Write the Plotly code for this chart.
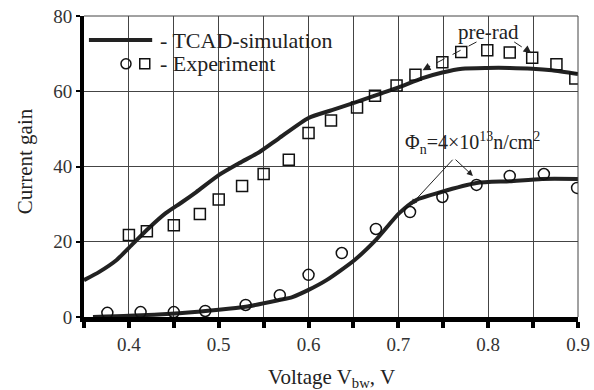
import plotly.graph_objects as go

# --- data ---
pre_sim_x = [0.35, 0.367, 0.386, 0.403, 0.422, 0.441, 0.459, 0.475, 0.50, 0.523, 0.545, 0.567,
             0.60, 0.626, 0.653, 0.682, 0.701, 0.727, 0.749, 0.771, 0.798, 0.824, 0.849, 0.871, 0.90]
pre_sim_y = [9.8, 12.0, 15.1, 19.1, 23.6, 27.6, 30.5, 33.2, 37.7, 40.9, 43.8, 47.5,
             52.9, 55.0, 57.1, 59.5, 61.1, 63.5, 65.0, 66.0, 66.2, 66.2, 66.0, 65.6, 64.6]

irr_sim_x = [0.36, 0.40, 0.456, 0.50, 0.53, 0.567, 0.582, 0.60, 0.62, 0.651, 0.675, 0.701,
             0.72, 0.746, 0.787, 0.824, 0.86, 0.90]
irr_sim_y = [0.0, 0.3, 1.0, 1.9, 2.7, 4.5, 5.3, 7.2, 9.8, 15.1, 20.5, 27.6,
             31.1, 33.1, 35.6, 36.1, 36.7, 36.7]

sq_x = [0.40, 0.42, 0.45, 0.479, 0.50, 0.526, 0.550, 0.578, 0.600, 0.625, 0.654, 0.674,
        0.698, 0.719, 0.749, 0.770, 0.799, 0.824, 0.849, 0.876, 0.897]
sq_y = [21.8, 22.8, 24.4, 27.4, 31.2, 34.8, 38.0, 41.8, 48.9, 52.2, 55.7, 58.8,
        61.5, 64.4, 67.7, 70.4, 70.9, 70.3, 68.9, 67.2, 63.4]

ci_x = [0.376, 0.413, 0.450, 0.485, 0.530, 0.568, 0.600, 0.637, 0.675, 0.713, 0.749, 0.787,
        0.824, 0.862, 0.899]
ci_y = [1.1, 1.3, 1.3, 1.6, 3.2, 5.8, 11.2, 17.0, 23.4, 27.9, 31.9, 35.1, 37.5, 38.0, 34.3]

x_tick_vals = [0.4, 0.5, 0.6, 0.7, 0.8, 0.9]
x_tick_text = ["0.4", "0.5", "0.6", "0.7", "0.8", "0.9"]
y_tick_vals = [0, 20, 40, 60, 80]
y_tick_text = ["0", "20", "40", "60", "80"]

FONT = "Liberation Serif"
TXT = "#222222"
LINE = "#222222"
GRID = "#444444"

fig = go.Figure()
fig.add_trace(go.Scatter(x=pre_sim_x, y=pre_sim_y, mode="lines",
                         line=dict(color=LINE, width=4, shape="spline", smoothing=0.6)))
fig.add_trace(go.Scatter(x=irr_sim_x, y=irr_sim_y, mode="lines",
                         line=dict(color=LINE, width=4, shape="spline", smoothing=0.6)))
fig.add_trace(go.Scatter(x=sq_x, y=sq_y, mode="markers",
                         marker=dict(symbol="square-open", size=11, color="#111",
                                     line=dict(width=1.5))))
fig.add_trace(go.Scatter(x=ci_x, y=ci_y, mode="markers",
                         marker=dict(symbol="circle-open", size=11, color="#111",
                                     line=dict(width=1.5))))

shapes = [
    # top and right thin border
    dict(type="line", xref="paper", yref="paper", x0=0, x1=1, y0=1, y1=1,
         line=dict(color=GRID, width=1)),
    dict(type="line", xref="paper", yref="paper", x0=1, x1=1, y0=0, y1=1,
         line=dict(color=GRID, width=1)),
    # legend line sample
    dict(type="line", xref="paper", yref="paper", x0=0.010, x1=0.138, y0=0.920, y1=0.920,
         line=dict(color=LINE, width=4)),
    # legend markers
    dict(type="circle", xref="paper", yref="paper", xsizemode="pixel", ysizemode="pixel",
         xanchor=0.085, yanchor=0.841, x0=-5, x1=5, y0=-5, y1=5,
         line=dict(color="#111", width=1.5)),
    dict(type="rect", xref="paper", yref="paper", xsizemode="pixel", ysizemode="pixel",
         xanchor=0.123, yanchor=0.841, x0=-5, x1=5, y0=-5, y1=5,
         line=dict(color="#111", width=1.5)),
    # dashed pre-rad arrows
    dict(type="line", x0=0.787, y0=73.1, x1=0.735, y1=66.6,
         line=dict(color="#222", width=1, dash="dash")),
    dict(type="line", x0=0.829, y0=73.1, x1=0.843, y1=70.9,
         line=dict(color="#222", width=1, dash="dash")),
]

annotations = [
    dict(xref="paper", yref="paper", x=0.150, y=0.920, xanchor="left", yanchor="middle",
         text="- TCAD-simulation", showarrow=False, font=dict(family=FONT, size=22, color=TXT)),
    dict(xref="paper", yref="paper", x=0.150, y=0.841, xanchor="left", yanchor="middle",
         text="- Experiment", showarrow=False, font=dict(family=FONT, size=22, color=TXT)),
    dict(x=0.800, y=75.8, text="pre-rad", showarrow=False, xanchor="center", yanchor="middle",
         font=dict(family=FONT, size=21, color=TXT)),
    dict(x=0.727, y=65.6, ax=0.737, ay=66.9, axref="x", ayref="y", text="", showarrow=True,
         arrowhead=2, arrowsize=1.3, arrowwidth=1.2, arrowcolor="#222"),
    dict(x=0.848, y=70.1, ax=0.842, ay=71.2, axref="x", ayref="y", text="", showarrow=True,
         arrowhead=2, arrowsize=1.3, arrowwidth=1.2, arrowcolor="#222"),
    dict(x=0.783, y=46.3, text="Φ<sub>n</sub>=4×10<sup>13</sup>n/cm<sup>2</sup>",
         showarrow=False, xanchor="center", yanchor="middle",
         font=dict(family=FONT, size=20, color=TXT)),
    dict(x=0.714, y=29.8, ax=0.762, ay=42.2, axref="x", ayref="y", text="", showarrow=True,
         arrowhead=2, arrowsize=1.2, arrowwidth=1, arrowcolor="#222"),
    dict(x=0.783, y=37.5, ax=0.762, ay=42.2, axref="x", ayref="y", text="", showarrow=True,
         arrowhead=2, arrowsize=1.2, arrowwidth=1, arrowcolor="#222"),
    # axis titles
    dict(xref="paper", yref="paper", x=0.5, y=-0.203, xanchor="center", yanchor="middle",
         text="Voltage V<sub>bw</sub>, V", showarrow=False,
         font=dict(family=FONT, size=21, color=TXT)),
    dict(xref="paper", yref="paper", x=-0.119, y=0.518, xanchor="center", yanchor="middle",
         text="Current gain", textangle=-90, showarrow=False,
         font=dict(family=FONT, size=21, color=TXT)),
]

fig.update_layout(
    width=594, height=390,
    margin=dict(l=84, r=16, t=16, b=73, autoexpand=False),
    paper_bgcolor="white", plot_bgcolor="white",
    showlegend=False,
    font=dict(family=FONT, size=18, color=TXT),
    shapes=shapes, annotations=annotations,
    xaxis=dict(
        range=[0.35, 0.9], tickvals=x_tick_vals, ticktext=x_tick_text,
        automargin=False,
        showgrid=True, gridcolor=GRID, gridwidth=1,
        ticks="outside", ticklen=6, tickwidth=4, tickcolor="black",
        showline=True, linecolor="black", linewidth=5,
        zeroline=False,
        tickfont=dict(family=FONT, size=19, color="#333"),
        minor=dict(tick0=0.35, dtick=0.05, showgrid=True, gridcolor=GRID, gridwidth=1,
                   ticks="outside", ticklen=6, tickwidth=4, tickcolor="black"),
    ),
    yaxis=dict(
        range=[0, 80], tickvals=y_tick_vals, ticktext=y_tick_text,
        automargin=False,
        showgrid=True, gridcolor=GRID, gridwidth=1,
        ticks="outside", ticklen=4, tickwidth=2, tickcolor="black",
        showline=True, linecolor="black", linewidth=4,
        zeroline=False,
        tickfont=dict(family=FONT, size=19, color="#333"),
    ),
)

fig.write_html("out.html")
